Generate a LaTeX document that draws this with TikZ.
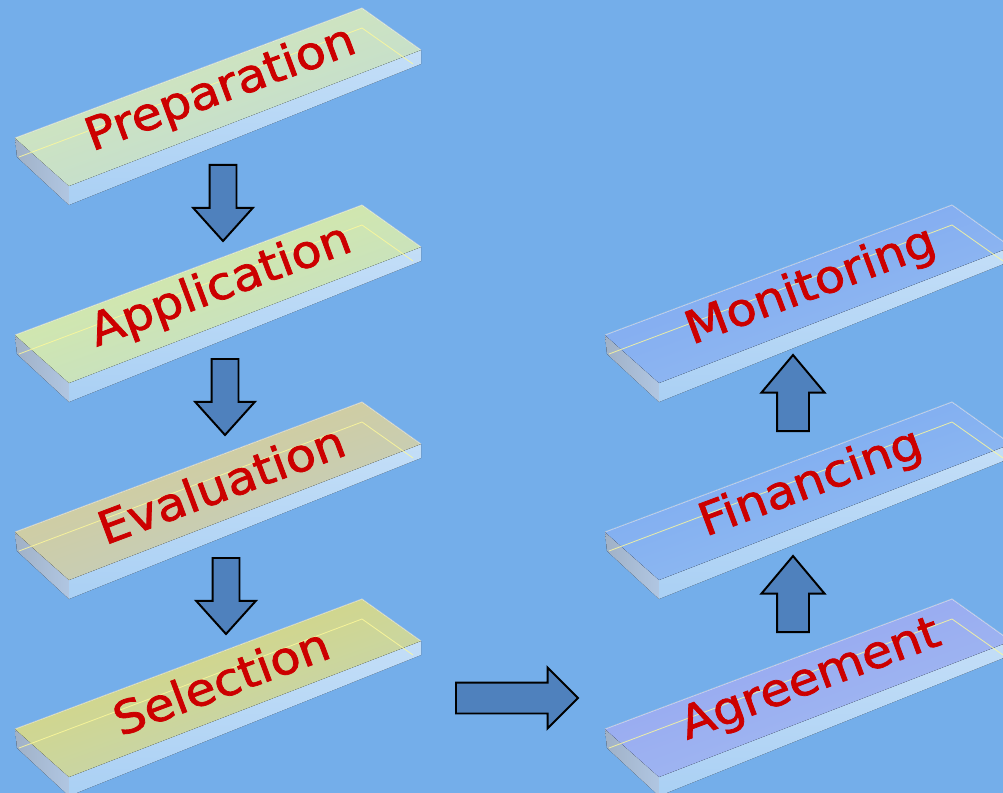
\documentclass[tikz,border=0pt]{standalone}
\usepackage{fontspec}
\setmainfont{DejaVu Sans}
\newfontfamily\losafont[RawFeature={embolden=1.6}]{DejaVu Sans}
\usetikzlibrary{shapes.arrows,calc}

\definecolor{fondo}{RGB}{116,174,234}
\definecolor{flecha}{RGB}{79,129,189}
\definecolor{rojo}{RGB}{204,0,0}
\definecolor{frente}{RGB}{170,208,244}
\definecolor{lado}{RGB}{176,198,226}
\definecolor{prepcol}{RGB}{214,232,180}
\definecolor{applcol}{RGB}{218,236,158}
\definecolor{evalcol}{RGB}{216,204,144}
\definecolor{selcol}{RGB}{218,216,118}
\definecolor{moncol}{RGB}{124,166,240}
\definecolor{fincol}{RGB}{122,168,240}
\definecolor{agrcol}{RGB}{150,164,240}

% losa: nombre, x, y (esquina izquierda), color, texto
\newcommand{\losa}[5]{%
  \begin{scope}[shift={(#2,#3)}]
    \fill[left color=lado!85!black!90, right color=lado] (0,0) -- (54,48) -- (54,67) -- (2,19) -- cycle;
    \fill[top color=frente!70!white, bottom color=frente] (54,48) -- (406,-88) -- (406,-74) -- (54,67) -- cycle;
    \fill[top color=#4, bottom color=#4!45!frente, shading angle=20] (0,0) -- (347,-130) -- (406,-88) -- (54,48) -- cycle;
    \draw[white, opacity=.6, line width=.6pt] (0,0) -- (347,-130) -- (406,-88);
    \draw[white!60!yellow, opacity=.8, line width=.6pt] (4,19) -- (347,-110) -- (398,-74);
    \node[slabtext] (#1) at (206,-48) {#5};
  \end{scope}}

\begin{document}
\begin{tikzpicture}[
        x=0.025cm, y=-0.025cm,
        slabtext/.style={text=rojo, font=\losafont\fontsize{35}{40}\selectfont, inner sep=0pt, rotate=20.5, yscale=.92},
        arrowblock/.style={single arrow, draw=black, fill=flecha, line width=1.4pt, inner xsep=0pt, inner ysep=.3125cm,
            minimum width=0pt, single arrow head extend=.41cm, single arrow tip angle=84, minimum height=1.9cm, anchor=tail},
        arrowup/.style={arrowblock, inner ysep=.375cm, single arrow head extend=.39cm, single arrow tip angle=80, rotate=90}
    ]
        \useasboundingbox (0,0) rectangle (1003,793);
        \clip (0,0) rectangle (1003,793);
        \fill[fondo] (0,0) rectangle (1003,793);

        \losa{prep}{15}{138}{prepcol}{Preparation}
        \losa{appl}{15}{335}{applcol}{Application}
        \losa{eval}{15}{532}{evalcol}{Evaluation}
        \losa{sel}{15}{729}{selcol}{Selection}
        \losa{mon}{605}{335}{moncol}{Monitoring}
        \losa{fin}{605}{532}{fincol}{Financing}
        \losa{agr}{605}{729}{agrcol}{Agreement}

        \node[arrowblock, rotate=-90] (a1) at ($(prep)+(2,74)$) {};
        \node[arrowblock, rotate=-90] (a2) at ($(appl)+(4,71)$) {};
        \node[arrowblock, rotate=-90] (a3) at ($(eval)+(5,73)$) {};
        \node[arrowblock, inner ysep=.3625cm, single arrow head extend=.375cm, single arrow tip angle=90, minimum height=3.05cm] (a4) at ($(sel)+(234,17)$) {};
        \node[arrowup] (a5) at ($(agr)+(-18,-48)$) {};
        \node[arrowup] (a6) at ($(fin)+(-18,-52)$) {};
    \end{tikzpicture}
\end{document}
